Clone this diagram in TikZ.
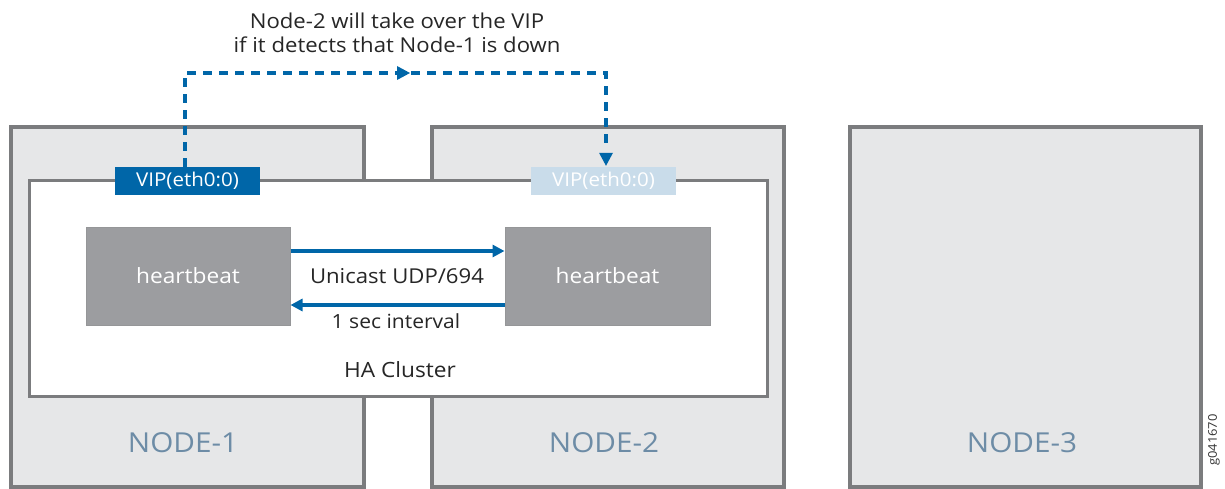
\documentclass[tikz,border=0pt]{standalone}
\usepackage{fontspec}
\setmainfont{Open Sans}[FakeStretch=1.08]
\usetikzlibrary{arrows.meta}
\definecolor{jblue}{HTML}{0066A8}
\definecolor{lblue}{HTML}{C9DCEA}
\definecolor{boxgray}{HTML}{E6E7E8}
\definecolor{edgegray}{HTML}{7B7C7E}
\definecolor{hbgray}{HTML}{9C9DA0}
\definecolor{nodetext}{HTML}{6D8CA6}
\begin{document}
\begin{tikzpicture}[x=1pt,y=-1pt,
  machine/.style={draw=edgegray,line width=3.4pt,fill=boxgray},
  cluster/.style={draw=edgegray,line width=3pt,fill=white},
  hb/.style={draw=edgegray!80,line width=1pt,fill=hbgray,text=white,font=\fontsize{21}{24}\selectfont},
  vip/.style={inner sep=0pt,minimum width=145pt,minimum height=28pt,text=white,font=\fontsize{19}{22}\selectfont},
  lbl/.style={font=\fontsize{20.5}{24}\selectfont,text=black!85},
  nlbl/.style={font=\fontsize{27.5}{30}\selectfont,text=nodetext},
  flow/.style={jblue,line width=3.4pt,-{Triangle[length=12pt,width=12pt]}},
  dashflow/.style={jblue,line width=3.4pt,dash pattern=on 9pt off 7pt}
]
\useasboundingbox (0,0) rectangle (1225,489);
% machines
\path[machine] (11,127) rectangle (364,487);
\path[machine] (432,127) rectangle (784,487);
\path[machine] (850,127) rectangle (1201,487);
\node[nlbl] (n1) at (183,443) {NODE-1};
\node[nlbl] (n2) at (604,443) {NODE-2};
\node[nlbl] (n3) at (1022,443) {NODE-3};
% cluster
\path[cluster] (29,181) rectangle (767,396);
\node[lbl,font=\fontsize{21}{24}\selectfont] (ha) at (400,370) {HA Cluster};
% VIPs
\node[vip,fill=jblue] (vip1) at (187.5,181) {VIP(eth0:0)};
\node[vip,fill=lblue] (vip2) at (603.5,181) {VIP(eth0:0)};
% heartbeats
\node[hb,minimum width=204pt,minimum height=98pt,inner sep=0pt] (hb1) at (188,276) {heartbeat};
\node[hb,minimum width=205pt,minimum height=98pt,inner sep=0pt] (hb2) at (607.5,276) {heartbeat};
\draw[flow] (hb1.east |- 0,251) -- (hb2.west |- 0,251);
\draw[flow] (hb2.west |- 0,305) -- (hb1.east |- 0,305);
\node[lbl] (udp) at (397,276) {Unicast UDP/694};
\node[lbl,font=\fontsize{19.5}{24}\selectfont] (sec) at (396,321) {1 sec interval};
% dashed takeover path
\coordinate (c1) at (185,73);
\coordinate (c2) at (606,73);
\coordinate (cm) at (404,73);
\draw[dashflow] (vip1.north -| c1) -- (c1) -- (c2) -- (606,150);
\fill[jblue] (vip2.north -| c2) ++(0,-1) -- ++(-7,-13) -- ++(14,0) -- cycle;
\fill[jblue] (cm) ++(6,0) -- ++(-13,-7) -- ++(0,14) -- cycle;
% title
\node[lbl,font=\fontsize{20.5}{24.5}\selectfont,align=center] (title) at (397,33) {Node-2 will take over the VIP\\if it detects that Node-1 is down};
% figure id
\node[rotate=90,font=\fontsize{12}{14}\selectfont,text=black!80] (gid) at (1214,440) {g041670};
\end{tikzpicture}
\end{document}
